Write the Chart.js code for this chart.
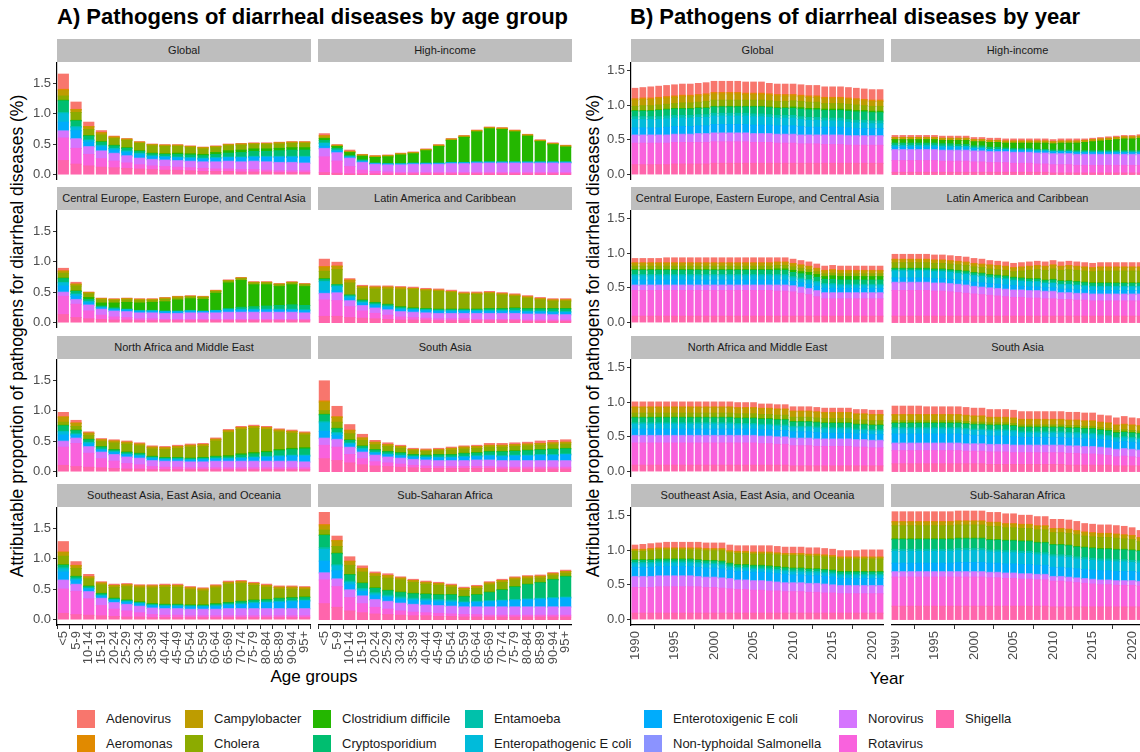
<!DOCTYPE html>
<html lang="en">
<head>
<meta charset="UTF-8">
<title>Pathogens of diarrheal diseases</title>
<script src="https://cdn.jsdelivr.net/npm/chart.js@4.4.1/dist/chart.umd.min.js"></script>
<style>
  body { margin:0; width:1140px; height:752px; overflow:hidden; background:#fff; position:relative;
         font-family:"Liberation Sans", Arial, sans-serif; color:#000; }
  canvas { position:absolute; }
  .strip { position:absolute; height:23px; line-height:23px; background:#bebebe; color:#1a1a1a;
           font-size:11px; text-align:center; white-space:nowrap; overflow:hidden; }
  .title { position:absolute; top:4px; font-size:22px; font-weight:bold; white-space:nowrap; }
  .ytitle { position:absolute; font-size:17.5px; white-space:nowrap; transform:translate(-50%,-50%) rotate(-90deg); }
  .xtitle { position:absolute; font-size:17px; white-space:nowrap; transform:translate(-50%,-50%); }
  .key { position:absolute; width:18px; height:18px; }
  .klab { position:absolute; font-size:13px; line-height:18px; white-space:nowrap; color:#1a1a1a; }
</style>
</head>
<body>
<div class="title" style="left:57px">A) Pathogens of diarrheal diseases by age group</div>
<div class="title" style="left:630px">B) Pathogens of diarrheal diseases by year</div>
<div class="ytitle" style="left:17px;top:336px">Attributable proportion of pathogens for diarrheal diseases (%)</div>
<div class="ytitle" style="left:593px;top:336px">Attributable proportion of pathogens for diarrheal diseases (%)</div>
<div class="xtitle" style="left:314px;top:677px">Age groups</div>
<div class="xtitle" style="left:887px;top:679px">Year</div>

<script>
// stacking order, bottom to top
const pathogens = ['Shigella','Rotavirus','Norovirus','Non-typhoidal Salmonella','Enterotoxigenic E coli',
  'Enteropathogenic E coli','Entamoeba','Cryptosporidium','Clostridium difficile','Cholera',
  'Campylobacter','Aeromonas','Adenovirus'];
const colors = ['#FF65AC','#F962DD','#D575FE','#8B93FF','#00ACFC','#00BBDA','#00C1AB','#00BE70',
  '#24B700','#8CAB00','#BE9C00','#E18A00','#F8766D'];
const legendOrder = ['Adenovirus','Aeromonas','Campylobacter','Cholera','Clostridium difficile','Cryptosporidium',
  'Entamoeba','Enteropathogenic E coli','Enterotoxigenic E coli','Non-typhoidal Salmonella','Norovirus',
  'Rotavirus','Shigella'];

const regions = ['Global','High-income','Central Europe, Eastern Europe, and Central Asia',
  'Latin America and Caribbean','North Africa and Middle East','South Asia',
  'Southeast Asia, East Asia, and Oceania','Sub-Saharan Africa'];

const ageGroups = ['<5','5-9','10-14','15-19','20-24','25-29','30-34','35-39','40-44','45-49',
  '50-54','55-59','60-64','65-69','70-74','75-79','80-84','85-89','90-94','95+'];
const years = [1990,1991,1992,1993,1994,1995,1996,1997,1998,1999,2000,2001,2002,2003,2004,2005,
  2006,2007,2008,2009,2010,2011,2012,2013,2014,2015,2016,2017,2018,2019,2020,2021];
const yTicks = [0, 0.5, 1, 1.5];

// values in hundredths of a percent; one row per pathogen, same order as `pathogens`
const ageGlobal = [
  [23,17,14,12,11,10,9,8,7,7,6,5,5,5,4,4,4,3,3,3],
  [37,26,19,14,11,9,7,6,6,5,5,5,4,4,4,4,3,3,3,3],
  [11,15,12,12,12,11,10,10,10,10,10,10,11,12,12,13,13,13,13,12],
  [1,1,1,1,1,1,1,1,1,1,1,1,1,1,1,1,1,1,1,1],
  [14,13,7,6,5,5,5,4,4,4,4,4,5,5,6,6,7,8,8,9],
  [14,5,3,2,2,2,2,1,1,1,1,1,1,1,1,1,1,1,1,1],
  [2,2,1,1,1,1,1,1,1,1,1,1,1,1,1,1,1,1,1,1],
  [19,9,6,5,4,4,3,3,3,4,4,4,5,6,7,8,8,9,10,10],
  [1,1,1,1,1,1,1,1,1,2,2,2,3,4,4,4,4,4,4,4],
  [7,13,10,11,11,12,12,12,12,11,10,9,8,8,8,7,7,7,7,7],
  [9,4,4,3,2,2,2,2,2,2,2,2,2,2,2,2,2,2,2,2],
  [2,1,1,1,1,0,0,0,0,0,0,0,0,0,0,0,0,0,0,0],
  [25,12,7,3,1,1,1,1,1,1,1,1,1,1,1,1,1,1,1,1]
];
const ageHighIncome = [
  [3,2,1,1,1,1,1,1,1,1,1,1,1,1,1,1,1,1,1,1],
  [26,20,12,6,4,3,2,2,2,2,2,2,2,2,2,2,2,2,2,2],
  [13,13,13,12,11,11,12,13,13,13,14,14,15,15,15,15,15,15,15,15],
  [1,1,1,1,1,1,1,1,1,1,1,1,1,1,1,1,1,1,1,1],
  [3,2,1,1,1,1,1,1,1,1,1,1,1,1,1,1,1,1,1,1],
  [5,2,1,1,0,0,0,0,0,0,0,0,0,0,0,0,0,0,0,0],
  [1,0,0,0,0,0,0,0,0,0,0,0,0,0,0,0,0,0,0,0],
  [4,3,2,2,1,1,1,1,1,1,1,1,1,1,1,1,1,1,1,1],
  [3,3,5,6,9,11,14,15,20,27,36,41,49,54,53,49,42,33,28,24],
  [1,0,0,0,0,0,0,0,0,0,0,0,0,0,0,0,0,0,0,0],
  [3,2,2,2,2,2,2,2,2,2,2,2,2,2,2,2,2,2,2,2],
  [1,0,0,0,0,0,0,0,0,0,0,0,0,0,0,0,0,0,0,0],
  [3,1,2,1,1,1,1,1,1,1,1,1,1,1,1,1,1,1,1,1]
];
const ageCentralEurope = [
  [13,8,6,5,4,4,3,3,3,3,3,3,3,3,3,3,3,3,3,3],
  [30,22,13,7,5,4,3,3,2,2,2,2,2,2,2,2,2,2,2,2],
  [6,7,9,9,9,9,9,9,9,9,10,10,10,11,11,11,11,11,11,10],
  [1,1,1,1,1,1,1,1,1,1,1,1,1,1,1,1,1,1,1,1],
  [10,5,3,2,2,2,2,2,2,2,2,2,3,3,3,3,3,3,3,3],
  [5,3,2,1,1,1,1,1,1,1,1,0,0,1,1,1,1,1,1,1],
  [1,1,1,0,0,0,0,0,0,0,0,0,0,0,1,1,1,1,1,1],
  [6,4,3,2,2,1,1,1,1,1,1,1,1,2,3,4,5,6,7,7],
  [1,1,3,5,8,11,12,13,15,18,19,19,28,42,44,36,35,31,33,31],
  [8,8,6,5,4,4,4,3,4,3,3,3,3,3,3,3,3,3,3,3],
  [3,3,2,2,2,2,2,2,2,2,1,1,1,1,1,1,1,1,1,1],
  [1,0,0,0,0,0,0,0,0,0,0,0,0,0,0,0,0,0,0,0],
  [4,3,1,1,1,1,1,1,1,1,1,1,1,1,1,1,1,1,1,1]
];
const ageLatinAmerica = [
  [10,10,8,7,6,5,4,4,4,3,3,3,3,3,3,3,2,2,2,2],
  [27,26,18,12,9,7,5,4,3,3,3,3,2,2,2,2,2,2,2,2],
  [10,12,9,8,8,8,8,8,8,8,8,8,9,9,9,9,9,9,8,8],
  [1,1,1,1,1,1,1,1,1,1,1,1,1,1,1,1,1,1,1,1],
  [4,3,3,3,3,3,3,3,3,3,3,3,3,3,3,3,3,3,3,3],
  [15,7,3,2,2,2,1,1,1,1,1,1,1,1,1,1,1,1,1,1],
  [1,1,1,1,1,1,1,1,1,1,1,1,1,1,1,1,1,1,1,1],
  [3,2,2,2,2,2,2,1,1,1,1,1,1,2,2,3,3,3,4,4],
  [1,0,0,1,1,1,1,1,1,1,1,1,1,1,1,1,1,1,1,1],
  [12,25,20,19,22,25,28,30,29,29,27,24,24,24,22,19,17,14,12,12],
  [6,5,4,3,3,3,3,2,2,2,2,2,2,2,2,2,2,2,2,2],
  [2,1,1,0,0,0,0,0,0,0,0,0,0,0,0,0,0,0,0,0],
  [12,6,2,2,2,2,2,2,2,2,2,2,2,2,2,2,2,2,2,2]
];
const ageNorthAfrica = [
  [10,8,7,6,5,4,4,3,3,3,3,3,3,3,3,3,3,3,3,3],
  [30,38,23,15,12,9,7,5,4,4,3,3,3,3,3,3,3,3,3,3],
  [9,8,10,10,10,10,10,9,9,9,9,9,10,10,10,10,10,10,10,9],
  [1,1,1,1,1,1,1,1,1,1,1,1,1,1,1,1,1,1,1,1],
  [10,4,4,3,3,3,3,3,2,2,2,3,3,3,4,5,6,7,8,9],
  [5,2,2,1,1,1,1,1,1,1,1,1,1,1,1,1,1,1,1,1],
  [1,1,1,1,1,1,1,1,1,1,1,1,1,1,1,1,1,1,1,1],
  [9,5,4,3,2,2,2,1,1,1,1,1,2,2,4,5,6,8,9,10],
  [1,1,1,1,1,1,1,1,1,1,1,1,1,2,2,2,2,2,2,2],
  [5,6,6,8,11,13,12,12,13,15,18,18,25,38,40,40,36,29,25,21],
  [8,5,4,3,3,3,3,3,3,3,3,3,3,3,3,3,3,3,3,3],
  [1,1,0,0,0,0,0,0,0,0,0,0,0,0,0,0,0,0,0,0],
  [7,4,2,2,2,2,2,2,2,2,2,2,2,2,2,2,2,2,2,2]
];
const ageSouthAsia = [
  [21,18,14,11,9,8,7,6,5,5,5,5,5,5,4,4,4,4,4,4],
  [22,22,14,10,7,6,5,4,4,3,3,3,3,3,3,3,3,3,3,3],
  [11,12,11,10,10,9,9,9,9,9,9,9,10,10,10,10,10,10,10,10],
  [1,1,1,1,1,1,1,1,1,1,1,1,1,1,1,1,1,1,1,1],
  [11,6,4,3,3,3,3,3,3,4,4,5,5,6,6,7,7,8,8,9],
  [14,4,2,2,1,1,1,1,1,1,1,1,1,1,1,1,1,1,1,1],
  [2,1,1,1,1,1,1,1,1,1,1,1,1,1,1,1,1,1,1,1],
  [11,6,4,3,3,3,3,2,2,3,3,4,4,5,6,6,7,7,8,8],
  [1,1,1,1,1,1,1,1,1,1,1,1,1,1,1,1,1,1,1,1],
  [6,10,10,9,8,8,7,6,6,6,7,7,7,7,7,7,7,7,7,7],
  [14,8,5,4,4,3,3,2,2,2,3,3,3,3,3,3,3,3,3,3],
  [2,1,1,0,0,0,0,0,0,0,0,0,0,0,0,0,0,0,0,0],
  [33,17,9,6,3,3,2,2,2,2,2,2,2,3,3,3,3,4,4,4]
];
const ageSoutheastAsia = [
  [10,8,7,6,5,4,4,3,3,3,3,3,3,3,3,3,3,3,3,3],
  [40,38,27,17,12,10,7,5,4,4,3,3,3,3,3,3,3,3,3,3],
  [14,11,11,11,10,10,10,10,10,10,10,10,10,11,11,11,11,11,11,11],
  [1,1,1,1,1,1,1,1,1,1,1,1,1,1,1,1,1,1,1,1],
  [13,6,4,3,3,3,3,3,3,3,3,3,4,5,6,8,9,10,11,12],
  [5,2,1,1,1,1,1,1,1,1,1,1,1,1,1,1,1,1,1,1],
  [2,1,1,1,1,1,1,1,1,1,1,1,1,1,1,1,1,1,1,1],
  [4,3,2,2,1,1,1,1,1,1,1,1,2,2,3,3,3,4,4,4],
  [1,1,1,1,1,1,1,1,1,1,1,1,1,1,1,1,1,1,1,1],
  [14,13,12,14,18,22,23,26,28,28,25,23,26,30,29,24,20,15,14,12],
  [6,4,3,3,3,3,3,3,3,3,3,3,3,3,3,3,3,3,3,3],
  [1,1,0,0,0,0,0,0,0,0,0,0,0,0,0,0,0,0,0,0],
  [17,6,4,2,2,2,2,2,2,2,2,2,2,2,2,2,2,2,2,2]
];
const ageSubSaharan = [
  [26,20,14,11,9,8,7,6,6,5,5,4,4,4,4,4,4,4,4,4],
  [39,34,22,15,11,9,7,6,5,5,4,4,4,3,3,3,3,3,3,3],
  [11,12,12,12,12,12,12,12,12,12,12,12,12,13,13,13,13,13,13,13],
  [1,1,1,1,1,1,1,1,1,1,1,1,1,1,1,1,1,1,1,1],
  [19,13,8,7,6,6,6,6,6,6,6,6,7,8,9,10,11,12,13,14],
  [19,8,4,3,3,2,2,2,2,2,2,1,1,1,1,1,1,1,1,1],
  [3,2,2,2,2,2,2,2,2,2,2,1,1,1,1,1,1,1,1,1],
  [20,18,10,8,7,7,7,7,7,7,8,8,10,13,16,20,23,25,29,33],
  [1,1,1,1,1,1,1,1,1,1,1,1,1,1,1,1,1,1,1,1],
  [8,11,15,18,19,20,20,18,16,15,12,10,10,12,12,11,9,7,6,5],
  [7,9,6,5,4,4,3,3,3,3,3,3,3,3,3,3,3,3,3,3],
  [2,1,1,1,0,0,0,0,0,0,0,0,0,0,0,0,0,0,0,0],
  [20,7,7,4,3,3,2,2,2,2,2,2,2,2,2,2,2,2,2,2]
];

const yearGlobal = [
  [14,14,14,14,14,15,15,15,15,15,16,16,16,16,16,16,16,16,16,16,16,16,16,16,16,16,16,16,16,16,16,16],
  [31,31,31,31,31,31,31,31,31,31,31,31,31,31,31,30,30,30,29,29,29,28,28,28,27,27,27,26,26,26,26,26],
  [11,11,11,11,11,11,11,11,12,12,12,12,12,12,12,12,12,12,12,12,12,12,12,12,13,13,13,13,13,13,13,13],
  [1,1,1,1,1,1,1,1,1,1,1,1,1,1,1,1,1,1,1,1,1,1,1,1,1,1,1,1,1,1,1,1],
  [10,10,10,10,11,11,11,11,11,11,12,12,12,12,12,12,12,12,12,12,12,12,11,11,11,11,11,11,10,10,10,10],
  [12,12,12,12,12,12,12,12,12,12,12,12,12,12,12,12,12,11,11,11,11,10,10,10,9,9,9,8,8,8,7,7],
  [4,4,4,4,4,4,4,4,4,4,4,4,4,4,4,4,4,4,4,4,4,4,4,4,4,4,4,4,4,4,4,4],
  [8,8,8,9,9,9,9,9,9,9,9,9,9,9,9,10,10,10,10,10,10,11,11,11,11,11,11,12,12,12,12,12],
  [1,1,1,1,1,1,1,1,1,1,1,1,1,1,1,1,1,1,1,1,2,2,2,2,2,2,2,2,2,2,2,2],
  [6,7,7,7,7,7,8,8,8,9,9,9,9,9,9,9,9,9,9,9,9,9,9,9,8,8,8,8,8,7,7,7],
  [9,9,9,9,9,9,9,9,9,9,9,9,9,9,8,8,8,8,8,8,7,7,7,7,7,7,7,7,7,7,7,7],
  [2,2,2,2,2,2,2,2,2,2,2,2,2,2,2,2,2,2,2,2,2,2,2,2,2,2,2,2,2,2,2,2],
  [15,15,16,16,16,16,16,16,16,16,16,16,16,16,16,16,16,15,15,15,15,15,15,15,15,15,15,15,15,15,15,15]
];
const yearHighIncome = [
  [3,3,3,3,3,3,3,3,3,3,3,3,3,3,3,3,3,3,3,3,2,2,2,2,2,2,2,2,2,2,2,2],
  [17,17,17,17,17,17,16,16,16,16,15,15,14,14,14,13,13,13,12,12,12,12,12,11,11,11,11,11,11,11,11,11],
  [15,15,15,15,15,15,15,15,15,15,15,15,15,15,15,15,15,15,15,15,15,15,15,15,15,15,15,15,15,15,15,15],
  [1,1,1,1,1,1,1,1,1,1,1,1,1,1,1,1,1,1,1,1,1,1,1,1,1,1,1,1,1,1,1,1],
  [3,3,3,3,3,3,3,3,3,3,3,3,2,2,2,2,2,2,2,2,2,2,2,2,2,2,2,2,2,2,2,2],
  [2,2,2,2,2,2,2,2,2,2,1,1,1,1,1,1,1,1,1,1,1,1,1,1,1,1,1,1,1,1,1,1],
  [1,1,1,1,1,1,1,1,0,0,0,0,0,0,0,0,0,0,0,0,0,0,0,0,0,0,0,0,0,0,0,0],
  [3,3,3,3,3,3,3,3,3,3,3,3,3,3,2,2,2,2,2,2,2,2,2,2,2,2,2,2,2,2,2,2],
  [5,5,5,5,5,5,5,5,6,6,6,6,7,7,7,8,8,8,9,9,9,10,10,11,12,13,14,15,16,17,17,18],
  [0,0,0,0,0,0,0,0,0,0,0,0,0,0,0,0,0,0,0,0,0,0,0,0,0,0,0,0,0,0,0,0],
  [3,3,3,3,3,3,3,3,3,3,3,3,3,3,3,3,3,3,3,3,3,3,3,3,3,3,3,3,3,3,3,3],
  [0,0,0,0,0,0,0,0,0,0,0,0,0,0,0,0,0,0,0,0,0,0,0,0,0,0,0,0,0,0,0,0],
  [3,3,3,3,3,3,3,3,3,3,3,3,3,3,3,3,3,3,3,3,3,3,3,3,2,2,2,2,2,2,2,2]
];
const yearCentralEurope = [
  [9,9,9,9,9,9,9,9,9,9,9,9,9,9,9,9,9,9,9,9,9,9,9,9,9,9,9,9,9,9,9,9],
  [37,37,37,37,37,37,37,37,37,37,37,37,37,37,37,37,37,37,36,36,35,33,31,28,25,25,25,25,25,25,25,25],
  [7,7,7,7,7,7,7,7,7,7,7,7,7,7,7,7,7,7,8,8,8,8,8,8,8,8,8,8,8,8,8,8],
  [1,1,1,1,1,1,1,1,1,1,1,1,1,1,1,1,1,1,1,1,1,1,1,1,1,1,1,1,1,1,1,1],
  [7,7,7,7,7,7,7,7,7,7,7,7,7,7,7,7,7,7,7,7,6,6,6,6,6,6,6,6,6,6,6,6],
  [6,6,6,6,6,6,6,6,6,6,6,6,6,6,6,6,6,6,6,6,5,5,5,5,5,5,4,4,4,4,4,4],
  [2,2,2,2,2,2,2,2,2,2,2,2,2,2,2,2,2,2,2,2,2,2,2,2,2,2,2,2,2,2,2,2],
  [6,6,6,6,6,6,6,6,6,6,6,6,6,6,6,6,6,6,6,6,6,6,6,6,6,6,6,6,6,6,6,6],
  [1,1,1,1,1,1,1,1,1,1,1,1,1,1,1,1,1,1,2,2,3,3,4,4,4,5,5,5,5,5,5,5],
  [5,5,5,5,5,5,5,5,5,5,5,5,5,5,5,5,5,5,5,5,5,5,4,4,4,4,4,4,4,4,4,4],
  [4,4,4,4,4,4,4,4,4,4,4,4,4,4,4,4,4,4,4,4,4,4,4,4,4,4,4,4,4,4,4,4],
  [1,1,1,1,1,1,1,1,1,1,1,1,1,1,1,1,1,1,1,1,1,1,1,1,1,1,1,1,1,1,1,1],
  [6,6,6,6,7,7,7,7,7,7,7,7,7,7,7,7,7,7,6,6,6,6,6,6,6,6,6,6,6,6,6,6]
];
const yearLatinAmerica = [
  [9,9,9,9,9,9,9,9,9,9,9,9,9,9,9,9,9,9,9,9,9,9,9,9,9,9,9,9,9,9,9,9],
  [37,37,37,37,37,36,36,35,34,33,32,31,30,29,28,27,27,26,26,25,25,24,24,23,23,22,22,22,22,22,22,22],
  [11,11,11,11,11,11,11,11,11,11,10,10,10,10,10,10,10,10,10,10,10,9,9,9,9,9,9,9,9,9,9,9],
  [1,1,1,1,1,1,1,1,1,1,1,1,1,1,1,1,1,1,1,1,1,1,1,1,1,1,1,1,1,1,1,1],
  [6,6,6,6,6,6,6,6,6,6,6,6,6,6,6,6,5,5,5,5,5,5,5,5,5,5,5,5,5,5,5,5],
  [10,10,10,10,10,10,10,10,9,9,9,9,8,8,8,7,7,7,7,6,6,6,6,6,5,5,5,5,5,5,5,5],
  [1,1,1,1,1,1,1,1,1,1,1,1,1,1,1,1,1,1,1,1,1,1,1,1,1,1,1,1,1,1,1,1],
  [2,2,2,2,2,2,2,2,3,3,3,3,3,3,3,3,3,3,3,3,4,4,4,4,4,4,4,4,4,4,4,4],
  [1,1,1,1,1,1,1,1,1,1,1,1,1,1,1,1,1,1,1,1,1,1,1,1,1,1,1,1,1,1,1,1],
  [8,8,8,8,8,8,8,8,8,8,8,8,8,8,8,8,10,12,13,14,15,15,16,16,16,16,17,17,17,17,17,17],
  [4,4,4,4,4,4,4,4,4,4,4,4,5,5,5,5,5,5,5,5,5,5,5,5,5,5,5,5,5,5,5,5],
  [1,1,1,1,1,1,1,1,1,1,1,1,1,1,1,1,1,1,1,1,1,1,1,1,1,1,1,1,1,1,1,1],
  [7,7,7,7,7,7,7,7,7,7,7,7,6,6,6,6,6,6,6,6,6,6,6,6,6,6,6,6,6,6,6,6]
];
const yearNorthAfrica = [
  [9,9,9,9,9,9,9,9,9,9,9,9,9,9,9,9,9,9,9,9,8,8,8,8,8,8,8,8,8,8,8,8],
  [32,32,32,32,32,32,32,32,32,32,32,32,32,32,32,32,31,31,30,30,29,29,29,28,28,28,28,28,27,27,26,26],
  [10,10,10,10,10,10,10,10,10,10,10,10,10,10,10,10,10,10,10,10,10,10,10,10,10,10,10,10,10,10,10,10],
  [1,1,1,1,1,1,1,1,1,1,1,1,1,1,1,1,1,1,1,1,1,1,1,1,1,1,1,1,1,1,1,1],
  [9,9,9,9,9,9,9,9,9,9,9,9,9,9,9,9,9,9,9,9,9,9,9,9,8,8,8,8,8,8,8,8],
  [7,7,7,7,7,7,7,7,7,7,7,7,7,6,6,6,6,6,6,6,6,6,6,6,6,6,6,6,5,5,5,5],
  [2,2,2,2,2,2,2,2,2,2,2,2,2,2,2,2,2,2,2,2,2,2,2,2,2,2,2,2,2,2,2,2],
  [7,7,7,7,7,7,7,7,7,7,7,7,7,7,7,7,7,7,7,7,6,6,6,6,6,6,6,6,6,6,6,6],
  [1,1,1,1,1,1,1,1,1,1,1,1,1,1,1,1,1,1,1,1,1,1,1,1,1,1,1,1,1,1,1,1],
  [6,6,6,6,6,6,6,6,6,6,6,6,6,6,6,6,6,6,6,6,6,6,6,6,6,6,6,6,6,6,6,6],
  [8,8,8,8,8,8,8,8,8,8,8,8,8,8,8,8,8,8,8,8,8,8,8,8,8,8,8,8,8,8,8,8],
  [1,1,1,1,1,1,1,1,1,1,1,1,1,1,1,1,1,1,1,1,1,1,1,1,1,1,1,1,1,1,1,1],
  [7,7,7,7,7,7,7,7,7,7,7,7,7,7,7,7,6,6,6,6,6,6,6,6,6,6,6,6,6,6,6,6]
];
const yearSouthAsia = [
  [11,11,11,11,11,11,11,11,11,11,11,11,10,10,10,10,10,10,10,10,10,10,9,9,9,9,9,9,8,8,8,8],
  [19,19,19,19,19,19,19,19,19,18,18,18,18,18,18,17,17,17,17,17,17,17,17,17,16,16,15,14,13,14,13,12],
  [10,10,10,10,10,10,10,10,10,10,10,10,10,10,10,10,10,10,10,10,10,10,10,10,10,10,10,10,10,10,10,10],
  [1,1,1,1,1,1,1,1,1,1,1,1,1,1,1,1,1,1,1,1,1,1,1,1,1,1,1,1,1,1,1,1],
  [13,13,13,13,13,13,13,13,13,13,12,12,12,12,12,12,11,11,11,11,11,11,11,11,11,11,11,11,10,10,10,10],
  [7,7,7,7,7,7,7,7,7,7,7,7,7,7,7,7,6,6,6,6,6,6,6,6,6,6,5,5,5,5,5,5],
  [2,2,2,2,2,2,2,2,2,2,2,2,2,2,2,2,2,2,2,2,2,2,2,2,2,2,2,2,2,2,2,2],
  [6,6,6,6,6,6,6,6,6,6,6,6,6,6,6,6,6,6,6,6,6,6,6,6,6,6,6,6,6,6,6,6],
  [1,1,1,1,1,1,1,1,1,1,1,1,1,1,1,1,1,1,1,1,1,1,1,1,1,1,1,1,1,1,1,1],
  [3,3,3,3,3,3,3,3,3,3,3,3,3,3,3,3,3,3,3,3,3,3,3,3,3,3,3,3,3,3,3,3],
  [8,8,8,8,8,8,8,8,8,8,8,8,7,7,7,7,7,7,7,7,7,7,7,7,7,7,7,7,7,7,7,7],
  [1,1,1,1,1,1,1,1,1,1,1,1,1,1,1,1,1,1,1,1,1,1,1,1,1,1,1,1,1,1,1,1],
  [12,12,12,12,11,11,11,11,11,11,11,11,11,11,11,11,11,11,11,11,11,11,11,11,11,11,10,10,10,11,10,10]
];
const yearSoutheastAsia = [
  [9,9,9,9,9,9,9,9,9,9,9,9,9,9,9,9,9,9,9,9,9,9,9,9,9,9,9,9,9,9,9,9],
  [37,37,37,38,38,38,38,38,38,37,37,36,35,34,34,33,33,32,32,31,31,31,30,30,29,29,28,28,28,28,28,28],
  [15,15,15,15,15,15,15,15,14,14,14,14,14,13,13,13,13,13,12,12,12,12,12,12,12,11,11,11,11,11,11,11],
  [1,1,1,1,1,1,1,1,1,1,1,1,1,1,1,1,1,1,1,1,1,1,1,1,1,1,1,1,1,1,1,1],
  [13,13,13,13,13,13,13,13,13,13,13,13,12,12,12,12,12,12,12,12,11,11,11,11,11,11,10,10,10,10,10,10],
  [5,5,5,5,5,5,5,5,5,5,5,5,4,4,4,4,4,4,4,4,4,4,4,4,4,4,4,4,4,4,4,4],
  [2,2,2,2,2,2,2,2,2,2,2,2,2,2,2,2,2,2,2,2,2,2,2,2,2,2,2,2,2,2,2,2],
  [3,3,3,3,3,3,3,3,3,3,3,3,3,3,3,3,3,3,3,3,3,3,3,3,3,3,3,3,3,3,3,3],
  [1,1,1,1,1,1,1,1,1,1,1,1,1,1,1,1,1,1,1,1,1,1,1,1,1,1,1,1,1,1,1,1],
  [12,12,13,13,13,13,13,13,14,14,14,15,15,16,16,16,16,17,17,17,18,18,18,18,18,18,18,18,18,18,18,18],
  [2,2,2,2,2,2,2,2,2,2,2,2,2,2,2,2,2,2,2,2,2,2,2,2,2,2,2,2,2,2,2,2],
  [1,1,1,1,1,1,1,1,1,1,1,1,1,1,1,1,1,1,1,1,1,1,1,1,1,1,1,1,1,1,1,1],
  [6,7,7,7,8,8,8,8,8,8,8,8,8,8,8,9,9,9,9,9,9,9,9,9,9,9,9,9,9,10,10,10]
];
const yearSubSaharan = [
  [19,19,19,19,19,19,19,19,19,19,19,19,19,19,19,19,19,19,19,19,18,18,18,18,18,18,18,18,18,18,18,18],
  [42,42,42,42,42,42,42,42,42,42,42,42,41,41,40,40,39,39,38,38,37,37,36,35,34,33,32,32,31,31,31,30],
  [7,7,7,7,7,7,7,7,7,7,7,7,7,7,7,7,7,7,7,7,6,6,6,6,6,6,6,6,6,6,6,6],
  [1,1,1,1,1,1,1,1,1,1,1,1,1,1,1,1,1,1,1,1,1,1,1,1,1,1,1,1,1,1,1,1],
  [12,12,12,12,12,12,12,12,13,13,13,13,13,13,13,13,13,13,13,13,13,13,13,13,13,13,13,13,13,13,13,13],
  [17,17,17,17,17,17,17,17,17,17,17,17,16,16,16,16,16,16,15,15,15,15,15,14,14,14,14,14,14,14,13,13],
  [3,3,3,3,3,3,3,3,3,3,3,3,3,3,3,3,3,3,3,3,3,3,3,3,3,3,3,3,3,3,3,3],
  [14,14,14,14,14,14,14,14,14,14,14,14,14,14,14,14,14,14,14,14,14,14,14,14,14,14,14,14,14,14,14,14],
  [1,1,1,1,1,1,1,1,1,1,1,1,1,1,1,1,1,1,1,1,1,1,1,1,1,1,1,1,1,1,1,1],
  [19,19,19,19,19,19,19,19,19,19,19,19,19,19,18,18,18,18,18,18,17,17,17,17,16,16,16,16,16,15,15,13],
  [5,5,5,5,5,5,5,5,5,5,5,5,5,5,5,5,5,5,5,5,5,5,5,5,5,5,5,5,5,5,5,5],
  [1,1,1,1,1,1,1,1,1,1,1,1,1,1,1,1,1,1,1,1,1,1,1,1,1,1,1,1,1,1,1,1],
  [14,14,14,14,14,14,14,14,14,14,14,14,14,14,14,14,13,13,13,13,13,13,13,13,12,12,12,12,12,12,11,10]
];

const ageFacets = [ageGlobal, ageHighIncome, ageCentralEurope, ageLatinAmerica,
  ageNorthAfrica, ageSouthAsia, ageSoutheastAsia, ageSubSaharan];
const yearFacets = [yearGlobal, yearHighIncome, yearCentralEurope, yearLatinAmerica,
  yearNorthAfrica, yearSouthAsia, yearSoutheastAsia, yearSubSaharan];

// layout
const STRIP_TOP = [39, 187, 336, 484];
const STRIP_H = 23, PLOT_H = 118, Y_W = 34;
const FONT = '"Liberation Sans", Arial, sans-serif';

function facet(o) {
  const top = STRIP_TOP[o.row];
  const strip = document.createElement('div');
  strip.className = 'strip';
  strip.style.left = o.x + 'px';
  strip.style.top = top + 'px';
  strip.style.width = o.w + 'px';
  strip.textContent = o.title;
  document.body.appendChild(strip);

  const showY = o.col === 0, showX = o.row === 3;
  const w = o.w + (showY ? Y_W : 0);
  const h = PLOT_H + (showX ? o.xH : 0);
  const cv = document.createElement('canvas');
  cv.width = w; cv.height = h;
  cv.style.width = w + 'px'; cv.style.height = h + 'px';
  cv.style.left = (o.x - (showY ? Y_W : 0)) + 'px';
  cv.style.top = (top + STRIP_H) + 'px';
  document.body.appendChild(cv);

  new Chart(cv, {
    type: 'bar',
    data: {
      labels: o.labels,
      datasets: o.rows.map((r, i) => ({
        label: pathogens[i],
        data: r.map(v => v / 100),
        backgroundColor: colors[i],
        borderWidth: 0,
        inflateAmount: 0.5,
        barPercentage: o.barPct,
        categoryPercentage: 1
      }))
    },
    options: {
      responsive: false, maintainAspectRatio: false, animation: false, devicePixelRatio: 1,
      layout: { padding: 0 },
      plugins: { legend: { display: false }, tooltip: { enabled: false } },
      scales: {
        x: {
          stacked: true, display: showX,
          grid: { drawOnChartArea: false, tickLength: 4, color: '#333' },
          border: { display: true, color: '#000', width: 1.2 },
          ticks: { autoSkip: false, minRotation: 90, maxRotation: 90, padding: 2,
                   color: '#4d4d4d', font: { family: FONT, size: 13 }, callback: o.tickCb },
          afterFit: s => { if (showX) s.height = o.xH; s.paddingLeft = 0; s.paddingRight = 0; }
        },
        y: {
          stacked: true, display: showY, min: o.yMin, max: o.yMax,
          afterBuildTicks: s => { s.ticks = yTicks.map(v => ({ value: v })); },
          grid: { drawOnChartArea: false, tickLength: 4, color: '#333' },
          border: { display: true, color: '#000', width: 1.2 },
          ticks: { padding: 2, color: '#4d4d4d', font: { family: FONT, size: 13 },
                   callback: v => v.toFixed(1) },
          afterFit: s => { if (showY) s.width = Y_W; s.paddingTop = 0; s.paddingBottom = 0; }
        }
      }
    }
  });
}

regions.forEach((name, i) => {
  const row = Math.floor(i / 2), col = i % 2;
  facet({ title: name, row, col, x: [57, 318][col], w: 254, labels: ageGroups, rows: ageFacets[i],
          yMin: -0.09, yMax: 1.85, xH: 46, barPct: 0.8,
          tickCb: (v, k) => ageGroups[k] });
  facet({ title: name, row, col, x: [631, 891][col], w: 253, labels: years, rows: yearFacets[i],
          yMin: -0.08, yMax: 1.62, xH: 40, barPct: 0.72,
          tickCb: (v, k) => years[k] % 5 === 0 ? String(years[k]) : null });
});

// legend: two rows, filled column by column
const keyX = [77, 185, 313, 465, 644, 839, 936];
const keyY = [710, 735];
legendOrder.forEach((name, i) => {
  const c = Math.floor(i / 2), r = i % 2;
  const sq = document.createElement('div');
  sq.className = 'key';
  sq.style.left = keyX[c] + 'px';
  sq.style.top = keyY[r] + 'px';
  sq.style.background = colors[pathogens.indexOf(name)];
  document.body.appendChild(sq);
  const lb = document.createElement('div');
  lb.className = 'klab';
  lb.style.left = (keyX[c] + 29) + 'px';
  lb.style.top = keyY[r] + 'px';
  lb.textContent = name;
  document.body.appendChild(lb);
});
</script>
</body>
</html>
